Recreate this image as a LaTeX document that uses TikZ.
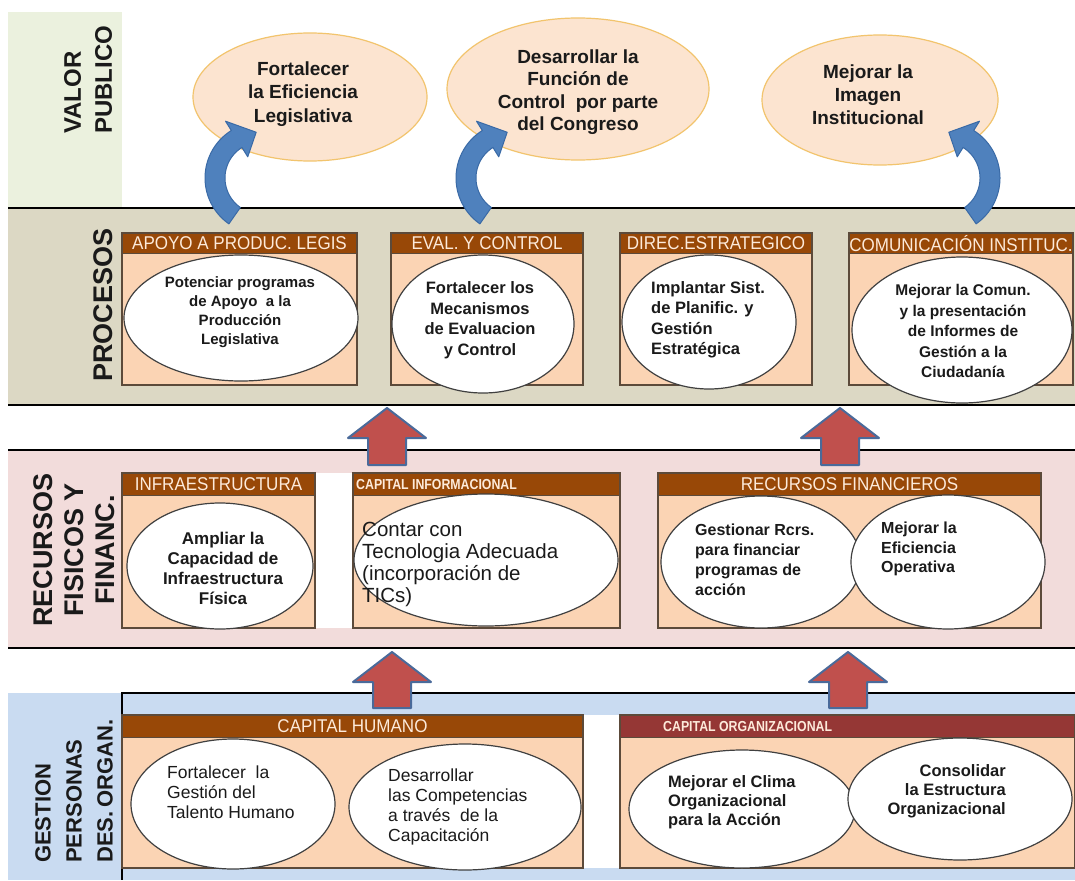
\documentclass[tikz,border=0pt]{standalone}
\usepackage{fontspec}
\setmainfont{Liberation Sans}
\newfontfamily\hdrfont[FakeStretch=0.92]{Liberation Sans}
\newfontfamily\smallhdrfont[FakeStretch=0.85]{Liberation Sans}
\usetikzlibrary{shapes.geometric}
\definecolor{valorc}{HTML}{EBF1DE}
\definecolor{procc}{HTML}{DCD8C4}
\definecolor{recc}{HTML}{F2DCDB}
\definecolor{gestc}{HTML}{C9DBF1}
\definecolor{boxfill}{HTML}{FBD4B4}
\definecolor{boxline}{HTML}{5C4A3A}
\definecolor{hdrc}{HTML}{984807}
\definecolor{hdrd}{HTML}{953735}
\definecolor{hdrtext}{HTML}{FDEADA}
\definecolor{topfill}{HTML}{FCE4D0}
\definecolor{topline}{HTML}{F2C46D}
\definecolor{ovalline}{HTML}{404040}
\definecolor{bluef}{HTML}{4F81BD}
\definecolor{bluel}{HTML}{3A6AA6}
\definecolor{redf}{HTML}{C0504D}
\definecolor{redl}{HTML}{4A6A9A}
\definecolor{txtc}{HTML}{1A1A1A}
\tikzset{
  bandline/.style={line width=2.5pt, black},
  boxst/.style={draw=boxline, line width=1.3pt},
  ellw/.style={ellipse, draw=ovalline, fill=white, line width=1.2pt, inner sep=0pt},
  elltop/.style={ellipse, draw=topline, fill=topfill, line width=1.2pt, inner sep=0pt},
  txt/.style={inner sep=0pt, text=txtc},
  hdrtxt/.style={inner sep=0pt, text=hdrtext, font=\hdrfont\fontsize{18.5}{20}\selectfont},
  smallhdrtxt/.style={inner sep=0pt, text=hdrtext, font=\smallhdrfont\bfseries\fontsize{14.5}{16}\selectfont},
  bandlabel/.style={inner sep=0pt, rotate=90, text=txtc},
  bluearr/.style={fill=bluef, draw=bluel, line width=1pt, line join=round},
  redarr/.style={fill=redf, draw=redl, line width=2pt, line join=round}
}
\newcommand\mycurvarrow[3]{%
  \filldraw[bluearr] plot[domain=125:238,samples=40] ({#1+#3*56*cos(\x)},{#2+56*sin(\x)})
  -- ({#1+#3*67*cos(238)},{#2+67*sin(238)})
  -- ({#1+#3*46*cos(264)},{#2+46*sin(264)})
  -- ({#1+#3*25*cos(238)},{#2+25*sin(238)})
  -- plot[domain=238:125,samples=40] ({#1+#3*36*cos(\x)},{#2+36*sin(\x)}) -- cycle;}
\newcommand\myblockarrow[4]{%
  \filldraw[redarr] (#1,#2) -- (#1+39,#3) -- (#1+19,#3) -- (#1+19,#4) -- (#1-19,#4) -- (#1-19,#3) -- (#1-39,#3) -- cycle;}
\newcommand\mybox[6]{% x1 x2 ytop ybot hdrbottom color
  \fill[boxfill] (#1,#3) rectangle (#2,#4);
  \fill[#6] (#1,#3) rectangle (#2,#5);
  \draw[boxst] (#1,#3) rectangle (#2,#4);
  \draw[boxline, line width=0.8pt] (#1,#5) -- (#2,#5);}
\begin{document}
\begin{tikzpicture}[x=1pt,y=-1pt]
\useasboundingbox (0,0) rectangle (1075,880);
\fill[white] (0,0) rectangle (1075,880);
% bands
\fill[valorc] (8,12) rectangle (122,207);
\fill[procc] (8,208) rectangle (1075,405);
\draw[bandline] (8,208) -- (1075,208);
\draw[bandline] (8,405) -- (1075,405);
\fill[recc] (8,450) rectangle (1075,648);
\draw[bandline] (8,450) -- (1075,450);
\draw[bandline] (8,648) -- (1075,648);
\fill[gestc] (8,693) rectangle (1075,880);
\draw[bandline] (1075,693) -- (122,693) -- (122,880);
% band labels
\node[bandlabel, align=left, anchor=west, font=\bfseries\fontsize{24}{31}\selectfont] (lvalor) at (88,134) {VALOR\\PUBLICO};
\node[bandlabel, font=\bfseries\fontsize{27}{31}\selectfont] (lproc) at (103,305) {PROCESOS};
\node[bandlabel, align=center, font=\bfseries\fontsize{27}{31}\selectfont] (lrec) at (74,550) {RECURSOS\\FISICOS Y\\FINANC.};
\node[bandlabel, align=left, anchor=west, font=\bfseries\fontsize{22}{31}\selectfont] (lgest) at (74,863) {GESTION\\PERSONAS\\DES.\,ORGAN.};
% procesos boxes
\mybox{122}{357}{233}{385}{253}{hdrc}
\mybox{391}{583}{233}{385}{253}{hdrc}
\mybox{620}{812}{233}{385}{253}{hdrc}
\mybox{849}{1073}{233}{385}{253}{hdrc}
\node[hdrtxt] (hp1) at (239.5,243.5) {APOYO A PRODUC. LEGIS};
\node[hdrtxt] (hp2) at (487,243.5) {EVAL. Y CONTROL};
\node[hdrtxt] (hp3) at (716,243.5) {DIREC.ESTRATEGICO};
\node[hdrtxt] (hp4) at (961,243.5) {COMUNICACIÓN INSTITUC.};
% recursos boxes
\fill[white] (315,473) rectangle (353,628);
\mybox{122}{315}{473}{628}{495}{hdrc}
\mybox{353}{620}{473}{628}{495}{hdrc}
\mybox{658}{1041}{473}{628}{495}{hdrc}
\node[hdrtxt] (hr1) at (218.5,484.5) {INFRAESTRUCTURA};
\node[smallhdrtxt, anchor=west] (hr2) at (356,484.5) {CAPITAL INFORMACIONAL};
\node[hdrtxt] (hr3) at (849.5,484.5) {RECURSOS FINANCIEROS};
% gestion boxes
\fill[white] (583,715) rectangle (620,868);
\mybox{122}{583}{715}{868}{737}{hdrc}
\mybox{620}{1075}{715}{868}{737}{hdrd}
\node[hdrtxt] (hg1) at (352.5,726.5) {CAPITAL HUMANO};
\node[smallhdrtxt, anchor=west] (hg2) at (663,726.5) {CAPITAL ORGANIZACIONAL};
% top ovals
\node[elltop, minimum width=234pt, minimum height=128pt] (o1) at (310,97) {};
\node[elltop, minimum width=262pt, minimum height=142pt] (o2) at (578,89) {};
\node[elltop, minimum width=236pt, minimum height=130pt] (o3) at (880,100) {};
\node[txt, align=center, font=\bfseries\fontsize{19}{23.5}\selectfont] (to1) at (303,94) {Fortalecer\\la Eficiencia\\Legislativa};
\node[txt, align=center, font=\bfseries\fontsize{19}{22.5}\selectfont] (to2) at (578,92) {Desarrollar la\\Función de\\Control~ por parte\\del Congreso};
\node[txt, align=center, font=\bfseries\fontsize{19}{23}\selectfont] (to3) at (868,95) {Mejorar la\\Imagen\\Institucional};
% procesos ovals
\node[ellw, minimum width=234pt, minimum height=126pt] (p1) at (241,318) {};
\node[ellw, minimum width=182pt, minimum height=138pt] (p2) at (483,324) {};
\node[ellw, minimum width=174pt, minimum height=134pt] (p3) at (709,322) {};
\node[ellw, minimum width=220pt, minimum height=146pt] (p4) at (962,330) {};
\node[txt, align=center, font=\bfseries\fontsize{15}{19}\selectfont] (tp1) at (240,312) {Potenciar programas\\de Apoyo~ a la\\Producción\\Legislativa};
\node[txt, align=center, font=\bfseries\fontsize{16.5}{20.5}\selectfont] (tp2) at (480,320) {Fortalecer los\\Mecanismos\\de Evaluacion\\y Control};
\node[txt, align=left, anchor=west, font=\bfseries\fontsize{16.5}{20.5}\selectfont] (tp3) at (651,320) {Implantar Sist.\\de Planific. y\\Gestión\\Estratégica};
\node[txt, align=center, font=\bfseries\fontsize{15.5}{20.5}\selectfont] (tp4) at (963,331) {Mejorar la Comun.\\y la presentación\\de Informes de\\Gestión a la\\Ciudadanía};
% recursos ovals
\node[ellw, minimum width=186pt, minimum height=126pt] (r1) at (220,566) {};
\node[ellw, minimum width=264pt, minimum height=132pt] (r2) at (486,560) {};
\node[ellw, minimum width=200pt, minimum height=132pt] (r3) at (761,562) {};
\node[ellw, minimum width=194pt, minimum height=134pt] (r4) at (948,562) {};
\node[txt, align=center, font=\bfseries\fontsize{17}{20}\selectfont] (tr1) at (223,568) {Ampliar la\\Capacidad de\\Infraestructura\\Física};
\node[txt, align=left, anchor=west, font=\fontsize{20.5}{22}\selectfont] (tr2) at (362,564) {Contar con\\Tecnologia Adecuada\\(incorporación de\\TICs)};
\node[txt, align=left, anchor=west, font=\bfseries\fontsize{16}{20}\selectfont] (tr3) at (695,560) {Gestionar Rcrs.\\para financiar\\programas de\\acción};
\node[txt, align=left, anchor=west, font=\bfseries\fontsize{16}{19.5}\selectfont] (tr4) at (881,549) {Mejorar la\\Eficiencia\\Operativa};
% gestion ovals
\node[ellw, minimum width=204pt, minimum height=130pt] (g1) at (233,804) {};
\node[ellw, minimum width=232pt, minimum height=126pt] (g2) at (465,807) {};
\node[ellw, minimum width=226pt, minimum height=118pt] (g3) at (742,809) {};
\node[ellw, minimum width=224pt, minimum height=122pt] (g4) at (960,799) {};
\node[txt, align=left, anchor=west, font=\fontsize{17.5}{20}\selectfont] (tg1) at (167,792) {Fortalecer~ la\\Gestión del\\Talento Humano};
\node[txt, align=left, anchor=west, font=\fontsize{17.5}{20}\selectfont] (tg2) at (388,807) {Desarrollar\\las Competencias\\a través~ de la\\Capacitación};
\node[txt, align=left, anchor=west, font=\bfseries\fontsize{16.5}{19}\selectfont] (tg3) at (668,802) {Mejorar el Clima\\Organizacional\\para la Acción};
\node[txt, align=right, anchor=east, font=\bfseries\fontsize{16.5}{19}\selectfont] (tg4) at (1006,791) {Consolidar\\la Estructura\\Organizacional};
% blue curved arrows
\mycurvarrow{261}{178}{1}
\mycurvarrow{512}{178}{1}
\mycurvarrow{944}{178}{-1}
% red block arrows
\myblockarrow{387}{408}{438}{465}
\myblockarrow{840}{408}{438}{465}
\myblockarrow{392}{652}{682}{708}
\myblockarrow{848}{652}{682}{708}
\end{tikzpicture}
\end{document}
